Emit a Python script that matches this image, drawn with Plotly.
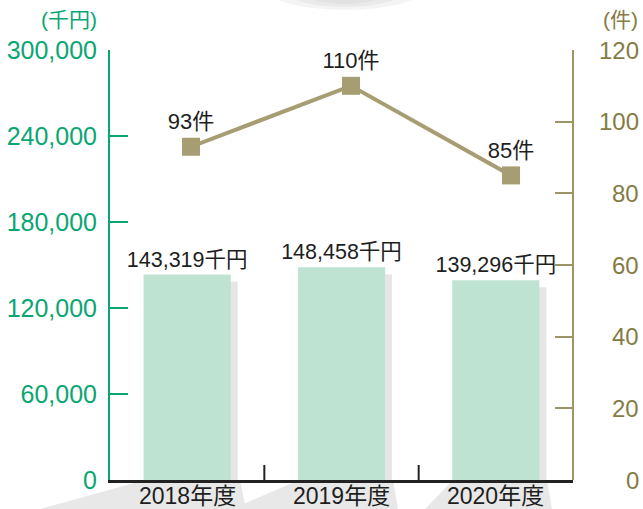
import plotly.graph_objects as go

# ---- data ----
years = ["2018年度", "2019年度", "2020年度"]
amount_k_yen = [143319, 148458, 139296]   # 千円 (left axis)
cases = [93, 110, 85]                     # 件 (right axis)
left_ticks = [0, 60000, 120000, 180000, 240000, 300000]
left_tick_labels = ["0", "60,000", "120,000", "180,000", "240,000", "300,000"]
right_ticks = [0, 20, 40, 60, 80, 100, 120]
right_tick_labels = ["0", "20", "40", "60", "80", "100", "120"]

W, H = 643, 509
PL, PR, PT, PB = 110, 591, 50, 480  # plot area in px
pw, ph = PR - PL, PB - PT

GREEN = "#0aa672"
OLIVE = "#857b45"
OLIVE_LINE = "#9d9564"
BAR = "#bfe3d3"
SHADOW = "#e6e6e6"
MARK = "#a69e72"
TXT = "#1e1e1e"
FONT = "Liberation Sans, Noto Sans CJK JP, sans-serif"

def px(x):
    return (x - PL) / pw

def py(y):
    return (PB - y) / ph

x1_end = (573 - PL) / pw  # primary x-axis domain end

bar_w = 0.565
shadow_dx = 0.045
shadow_dy = 4900  # visual drop of the shadow top

fig = go.Figure()

# bar shadows
fig.add_trace(go.Bar(
    x=years, y=[v - shadow_dy for v in amount_k_yen],
    width=bar_w, offset=-bar_w / 2 + shadow_dx,
    marker=dict(color=SHADOW, line=dict(width=0)),
    hoverinfo="skip", showlegend=False,
))
# bars
fig.add_trace(go.Bar(
    x=years, y=amount_k_yen,
    width=bar_w, offset=-bar_w / 2,
    marker=dict(color=BAR, line=dict(width=0)),
    text=[f"{v:,}千円" for v in amount_k_yen],
    textposition="outside", cliponaxis=False, constraintext="none",
    textfont=dict(family=FONT, size=21.5, color=TXT),
    showlegend=False,
))
# line
fig.add_trace(go.Scatter(
    x=years, y=cases, xaxis="x2", yaxis="y2",
    mode="lines+markers+text",
    line=dict(color=MARK, width=4),
    marker=dict(symbol="square", size=18, color=MARK),
    text=[f"{v}件" for v in cases],
    textposition="top center",
    textfont=dict(family=FONT, size=22, color=TXT),
    cliponaxis=False, showlegend=False,
))

shapes = []
# floor shadows below the axis
floor = [
    [(145, 480), (240, 480), (246, 509), (40, 509)],
    [(299, 480), (393, 480), (398, 509), (232, 509)],
    [(453, 480), (547, 480), (552, 509), (425, 509)],
]
for poly in floor:
    path = "M " + " L ".join(f"{px(a):.4f},{py(b):.4f}" for a, b in poly) + " Z"
    shapes.append(dict(type="path", path=path, xref="paper", yref="paper",
                       fillcolor="#e8e8e8", line=dict(width=0), layer="below"))
# faint ellipse at top centre
for (x0, x1, y0, y1, op) in [(262, 428, -40, 10, 0.25), (275, 415, -40, 7, 0.3), (290, 400, -40, 4, 0.35)]:
    shapes.append(dict(type="circle", xref="paper", yref="paper",
                       x0=px(x0), x1=px(x1), y0=py(y1), y1=py(y0),
                       fillcolor="#d4d4d4", opacity=op, line=dict(width=0), layer="below"))
# category separators
for b in [0.5, 1.5]:
    shapes.append(dict(type="line", xref="x", yref="paper", x0=b, x1=b,
                       y0=0, y1=py(465), line=dict(color="#222222", width=2)))

annotations = [
    dict(text="(千円)", x=px(99), y=py(19), xref="paper", yref="paper",
         xanchor="right", yanchor="middle", showarrow=False,
         font=dict(family=FONT, size=21, color=GREEN)),
    dict(text="(件)", x=px(640), y=py(19), xref="paper", yref="paper",
         xanchor="right", yanchor="middle", showarrow=False,
         font=dict(family=FONT, size=21, color=OLIVE)),
]
for v, t in zip(right_ticks, right_tick_labels):
    annotations.append(dict(text=t, x=px(641), y=v, xref="paper", yref="y2",
                            xanchor="right", yanchor="middle", showarrow=False,
                            font=dict(family=FONT, size=24, color=OLIVE)))
# category labels under the axis
for c in years:
    annotations.append(dict(text=c, x=c, y=py(496), xref="x", yref="paper",
                            xanchor="center", yanchor="middle", showarrow=False,
                            font=dict(family=FONT, size=23, color=TXT)))

fig.update_layout(
    template="none",
    width=W, height=H,
    margin=dict(l=PL, r=W - PR, t=PT, b=H - PB, pad=0, autoexpand=False),
    paper_bgcolor="white", plot_bgcolor="rgba(0,0,0,0)",
    barmode="overlay",
    font=dict(family=FONT),
    xaxis=dict(domain=[0, x1_end], type="category", range=[-0.5, 2.5],
               automargin=False,
               showline=True, linecolor="#222222", linewidth=2.5,
               ticks="", showgrid=False, zeroline=False,
               showticklabels=False),
    xaxis2=dict(domain=[px(111), 1], type="category", range=[-0.5, 2.5],
                visible=False, anchor="y2", automargin=False),
    yaxis=dict(range=[0, 300000], tickvals=left_ticks, ticktext=left_tick_labels,
               automargin=False,
               showline=True, linecolor=GREEN, linewidth=2,
               ticks="inside", ticklen=18, tickwidth=2, tickcolor=GREEN,
               showgrid=False, zeroline=False,
               tickfont=dict(family=FONT, size=25, color=GREEN),
               ticklabelstandoff=6),
    yaxis2=dict(range=[0, 120], tickvals=right_ticks, overlaying="y",
                side="right", anchor="free", position=x1_end, automargin=False,
                showline=True, linecolor=OLIVE_LINE, linewidth=2,
                ticks="inside", ticklen=17, tickwidth=2, tickcolor=OLIVE_LINE,
                showticklabels=False, showgrid=False, zeroline=False),
    shapes=shapes, annotations=annotations,
)

fig.write_html("out.html", config={"displayModeBar": False},
               post_script="document.body.style.margin='0px';document.body.style.overflow='hidden';")
